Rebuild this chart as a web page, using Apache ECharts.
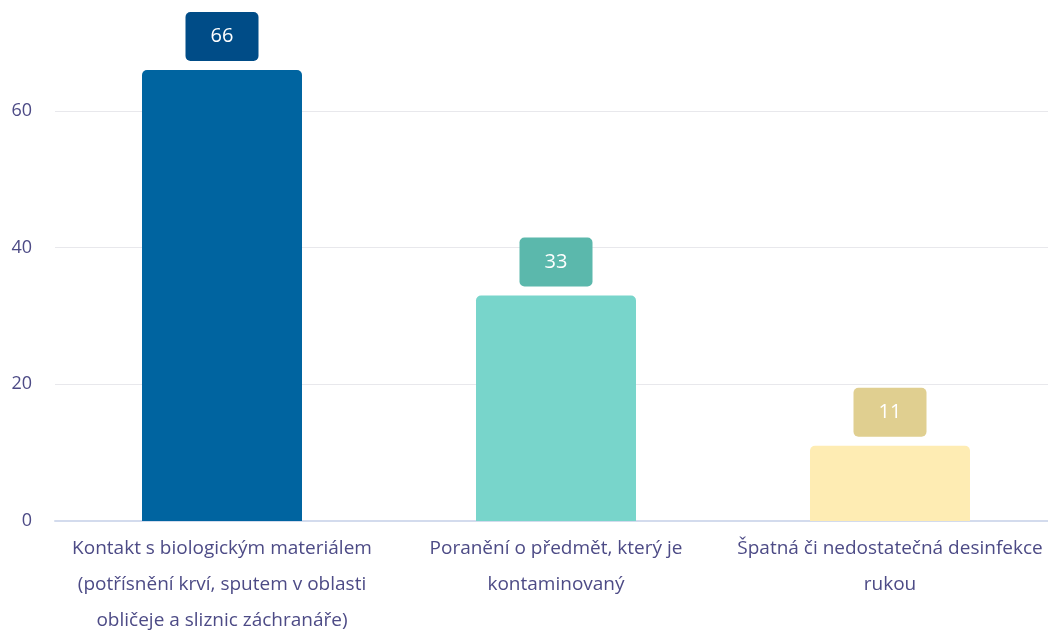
<!DOCTYPE html>
<html>
<head>
<meta charset="utf-8">
<script src="https://cdn.jsdelivr.net/npm/echarts@6/dist/echarts.min.js"></script>
<style>
  html, body { margin: 0; padding: 0; background: #ffffff; overflow: hidden; }
  #chart { width: 1048px; height: 633px; }
</style>
</head>
<body>
<div id="chart"></div>
<script>
// Categories (wrapped over several lines as displayed under the axis)
const categories = [
  'Kontakt s biologickým materiálem\n(potřísnění krví, sputem v oblasti\nobličeje a sliznic záchranáře)',
  'Poranění o předmět, který je\nkontaminovaný',
  'Špatná či nedostatečná desinfekce\nrukou'
];
const values = [66, 33, 11];
const barColors = ['#0064a0', '#78d5cb', '#feecb3'];
const labelColors = ['#004c87', '#5bb8ac', '#e0cf90'];
const yTicks = [0, 20, 40, 60];

const chart = echarts.init(document.getElementById('chart'));

const seriesData = values.map((v, i) => ({
  value: v,
  itemStyle: { color: barColors[i], borderRadius: [5, 5, 0, 0] },
  label: { backgroundColor: labelColors[i] }
}));

chart.setOption({
  animation: false,
  grid: {
    left: 55, width: 1002, top: 111, bottom: 112,
    containLabel: false,
    outerBoundsMode: 'none'
  },
  xAxis: {
    type: 'category',
    data: categories,
    axisTick: { show: false },
    axisLine: { lineStyle: { color: '#d3dbed', width: 2 } },
    axisLabel: {
      color: '#4d4b86',
      fontFamily: 'Open Sans',
      fontSize: 19,
      lineHeight: 36,
      margin: 10,
      interval: 0
    }
  },
  yAxis: {
    type: 'value',
    min: yTicks[0],
    max: yTicks[yTicks.length - 1],
    interval: 20,
    axisLine: { show: false },
    axisTick: { show: false },
    splitLine: { lineStyle: { color: '#e8e8ec', width: 1 } },
    axisLabel: {
      color: '#4d4b86',
      fontFamily: 'Open Sans',
      fontSize: 18,
      margin: 23
    }
  },
  series: [{
    type: 'bar',
    data: seriesData,
    barWidth: 160,
    clip: false,
    label: {
      show: true,
      position: 'top',
      distance: 9,
      color: '#ffffff',
      fontFamily: 'Open Sans',
      fontSize: 20,
      width: 25,
      height: 21,
      lineHeight: 21,
      align: 'center',
      padding: [14, 24],
      borderRadius: 5
    }
  }]
});
</script>
</body>
</html>
